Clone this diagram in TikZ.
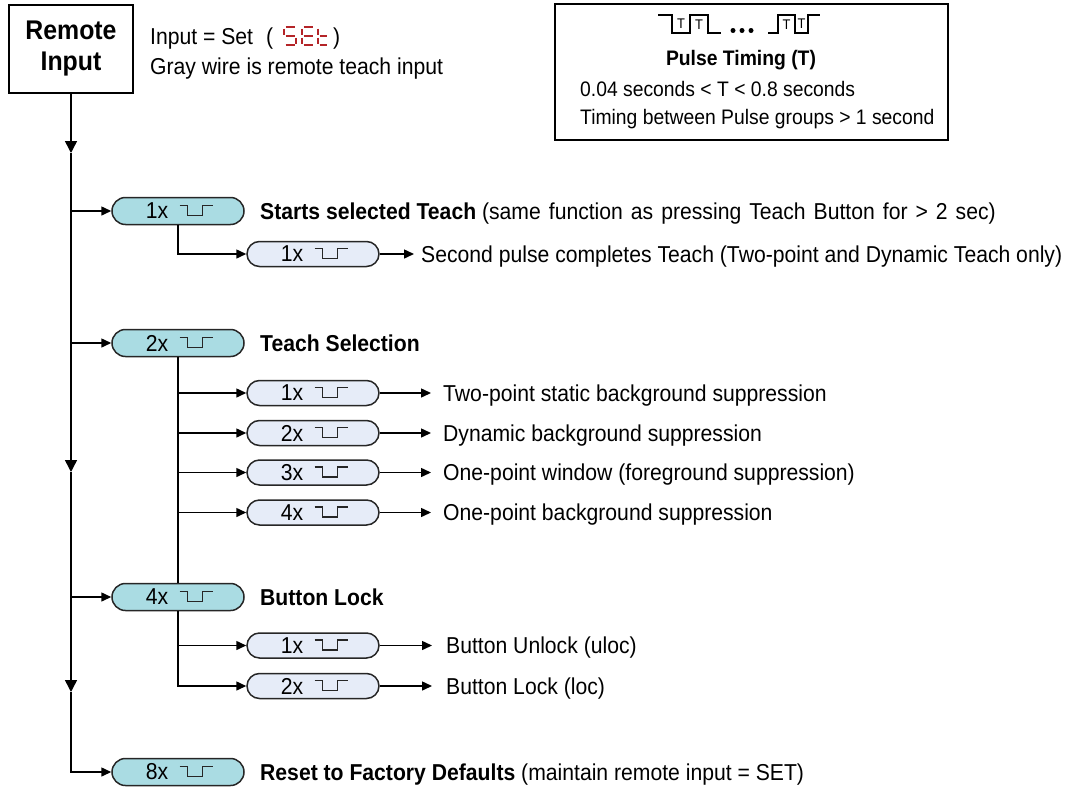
\documentclass[tikz,border=0pt]{standalone}
\usepackage{fontspec}
\setmainfont{Liberation Sans}[FakeStretch=0.92]
\usetikzlibrary{arrows.meta,shapes.misc,calc}
\definecolor{tealfill}{RGB}{170,220,227}
\definecolor{bluefill}{RGB}{230,236,248}
\definecolor{segred}{RGB}{180,36,40}
\newcommand\mainfs{\fontsize{23}{28}\selectfont}
\newcommand\boxfs{\fontsize{21}{25}\selectfont}
\newcommand\pillfs{\fontsize{23}{28}\selectfont}
\tikzset{
  conn/.style={line width=1.5pt, draw=black},
  arr/.style={conn, -{Triangle[length=10pt,width=9pt]}},
  darr/.style={conn, -{Triangle[length=12pt,width=12pt]}},
  pillbase/.style={rounded rectangle, draw=black!85, line width=1.5pt, minimum width=132pt, inner sep=0pt},
  pillA/.style={pillbase, fill=tealfill, minimum height=27pt},
  pillB/.style={pillbase, fill=bluefill, minimum height=25pt},
  pulsesig/.style={line width=1.4pt, draw=black!85},
  lbl/.style={anchor=base west, inner sep=0pt, yshift=-8pt, font=\mainfs},
  boxlbl/.style={anchor=base west, inner sep=0pt, yshift=-7.5pt, font=\boxfs},
  seg/.style={line width=2pt, draw=segred},
  wave/.style={line width=1.4pt, draw=black},
  tlab/.style={inner sep=0pt, font=\fontsize{14}{16}\selectfont},
}
\newcommand\pill[5]{%
  \node[#1] (#2) at (#3,#4) {};
  \node[font=\pillfs, inner sep=0pt] (#2t) at ($(#2.center)+(-21,0)$) {#5x};
  \draw[pulsesig] ($(#2.center)+(1.5,-5.5)$) -- ++(8,0) -- ++(0,10) -- ++(15,0) -- ++(0,-10) -- ++(10,0);
}
\begin{document}
\begin{tikzpicture}[x=1pt,y=-1pt]
\useasboundingbox (0,0) rectangle (1077,790);

% Remote input box
\node[draw, line width=2.4pt, minimum width=124pt, minimum height=88pt, inner sep=0pt,
      font=\fontsize{27}{31}\selectfont\bfseries, align=center] (rin) at (71,49) {Remote\\Input};

% header text
\node[lbl] (set) at (150,36) {Input = Set};
\node[lbl] (po) at (266,36) {(};
\node[lbl] (pc) at (333,36) {)};
% 7-segment "SEt"
\begin{scope}[seg]
  \draw (285.5,27) -- (294.5,27); \draw (284,28.5) -- (284,34.5); \draw (285.5,36) -- (294.5,36);
  \draw (296,37.5) -- (296,43.5); \draw (285.5,45) -- (294.5,45);
  \draw (303.5,27) -- (312.5,27); \draw (302,28.5) -- (302,34.5); \draw (303.5,36) -- (312.5,36);
  \draw (302,37.5) -- (302,43.5); \draw (303.5,45) -- (312.5,45);
  \draw (318,28.5) -- (318,34.5); \draw (319.5,36) -- (327,36);
  \draw (318,37.5) -- (318,43.5); \draw (319.5,45) -- (327,45);
\end{scope}
\node[lbl] (gray) at (150,66) {Gray wire is remote teach input};

% Pulse timing box
\node[draw, line width=1.5pt, minimum width=393pt, minimum height=136pt, inner sep=0pt] (pt) at (751.5,72) {};
\draw[wave] (658,15) -- (672,15) -- (672,33) -- (690,33) -- (690,15) -- (708,15) -- (708,33) -- (721,33);
\draw[wave] (768,33) -- (778,33) -- (778,15) -- (795,15) -- (795,33) -- (808,33) -- (808,15) -- (820,15);
\foreach \dx in {733,742,751} \fill (\dx,30.5) circle (2.5pt);
\node[tlab] (tA) at (681,23.5) {T};
\node[tlab] (tB) at (699,24.5) {T};
\node[tlab] (tC) at (786.5,24.5) {T};
\node[tlab] (tD) at (801.5,23.5) {T};
\node[inner sep=0pt, font=\boxfs\bfseries, anchor=base, yshift=-7.5pt] (ptt) at (741,58) {Pulse Timing (T)};
\node[boxlbl] (pt1) at (580,89) {0.04 seconds < T < 0.8 seconds};
\node[boxlbl] (pt2) at (580,117) {Timing between Pulse groups > 1 second};

% pills
\pill{pillA}{p1}{178}{211}{1}
\pill{pillB}{s1}{313}{254}{1}
\pill{pillA}{p2}{178}{343}{2}
\pill{pillB}{t1}{313}{393}{1}
\pill{pillB}{t2}{313}{433}{2}
\pill{pillB}{t3}{313}{472.5}{3}
\pill{pillB}{t4}{313}{512.5}{4}
\pill{pillA}{p4}{178}{597}{4}
\pill{pillB}{u1}{313}{645.5}{1}
\pill{pillB}{u2}{313}{686}{2}
\pill{pillA}{p8}{178}{772}{8}

% labels
\node[lbl] (l1) at (260,211) {\textbf{Starts selected Teach} {\spaceskip=8pt plus 1pt (same function as pressing Teach Button for > 2 sec)}};
\node[lbl] (ls1) at (421,254) {Second pulse completes Teach (Two-point and Dynamic Teach only)};
\node[lbl] (l2) at (260,343) {\textbf{Teach Selection}};
\node[lbl] (lt1) at (443,393) {Two-point static background suppression};
\node[lbl] (lt2) at (443,433) {Dynamic background suppression};
\node[lbl] (lt3) at (443,472.5) {One-point window (foreground suppression)};
\node[lbl] (lt4) at (443,512.5) {One-point background suppression};
\node[lbl] (l4) at (260,597) {\textbf{Button Lock}};
\node[lbl] (lu1) at (446,645.5) {Button Unlock (uloc)};
\node[lbl] (lu2) at (446,686) {Button Lock (loc)};
\node[lbl] (l8) at (260,772) {\textbf{Reset to Factory Defaults} (maintain remote input = SET)};

% main line
\coordinate (d1) at (71,153);
\coordinate (d2) at (71,472);
\coordinate (d3) at (71,692);
\draw[darr] (rin.south) -- (d1);
\draw[darr] (d1) -- (d2);
\draw[darr] (d2) -- (d3);
\draw[arr] (d3) |- (p8.west);
\draw[arr] (p1.west -| d1) -- (p1.west);
\draw[arr] (p2.west -| d1) -- (p2.west);
\draw[arr] (p4.west -| d1) -- (p4.west);

% branches
\draw[arr] (p1.south) |- (s1.west);
\draw[arr, shorten >=7pt] (s1.east) -- (s1.east -| ls1.west);
\foreach \t in {t1,t2,t3,t4}{
  \draw[arr] (p2.south) |- (\t.west);
  \draw[arr, shorten >=12pt] (\t.east) -- (\t.east -| l\t.west);
}
\draw[conn] (p2.south) -- (p4.north);
\foreach \u in {u1,u2}{
  \draw[arr] (p4.south) |- (\u.west);
  \draw[arr, shorten >=14pt] (\u.east) -- (\u.east -| l\u.west);
}
\end{tikzpicture}
\end{document}
